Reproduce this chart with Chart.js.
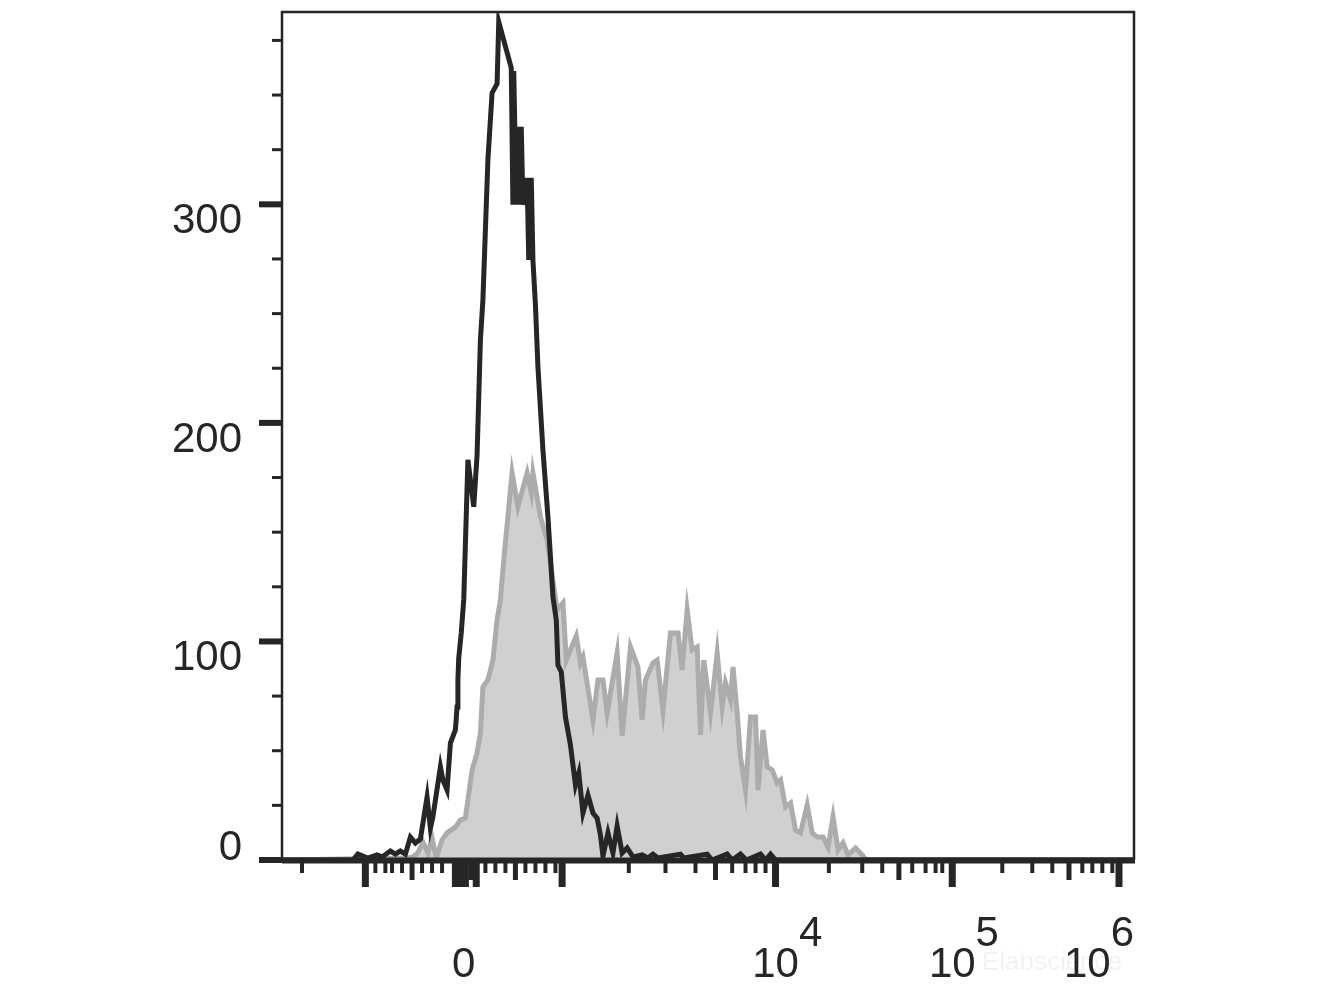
<!DOCTYPE html>
<html>
<head>
<meta charset="utf-8">
<script src="https://cdn.jsdelivr.net/npm/chart.js@4.4.1/dist/chart.umd.min.js"></script>
<style>
  html, body { margin: 0; padding: 0; background: #fff; }
  #wrap { width: 1323px; height: 992px; }
</style>
</head>
<body>
<div id="wrap"><canvas id="histChart" width="1323" height="992"></canvas></div>
<script>
// display channel (0-1022) and event count
const blackX = [0, 85, 91, 97, 103, 114, 120, 130, 136, 142, 148, 154, 160, 166, 174, 178, 181, 190, 193, 198,
  202, 208, 210, 211, 212, 215, 218, 223, 230, 234, 238, 241, 247, 252, 258, 260, 275, 277, 278, 281, 282, 284, 287, 289, 294,
  296, 299, 301, 304, 307, 313, 319, 325, 329, 331, 335, 340, 346, 352, 356, 361, 367, 373, 378, 382, 385, 391, 397, 402,
  408, 414, 421, 432, 439, 445, 451, 478, 482, 510, 516, 534, 540, 550, 557, 574, 580, 586, 592, 1022];
const blackY = [0, 0, 2.7, 1.8, 0.9, 2.3, 1.4, 4.1, 2.7, 4.1, 2.7, 10.5, 7.8, 9.6, 28.8, 14.6, 19.7, 42.6, 36.6, 32,
  53.5, 59.5, 70, 82.4, 92.4, 103.9, 119, 183.1, 161.6, 185.4, 238, 256.3, 320.4, 351, 355.1, 383.5, 362.5, 299.8, 361, 299.8, 335.5, 299.8, 335.5, 299.8, 312.1,
  274.6, 312.1, 274.6, 254, 225.6, 187.6, 157, 120.4, 109.8, 89.2, 86, 65.4, 52.6, 34.3, 39.8, 21.5, 29.7, 21.5, 19.2, 11.4, 1.8, 12.4, 3.2, 15.6,
  3.2, 5.5, 1.4, 2.3, 0.9, 2.7, 0.9, 2.7, 0.9, 2.7, 0, 2.7, 0, 2.7, 0, 2.7, 0, 2.7, 0, 0];

const grayX = [0, 151, 157, 163, 169, 175, 180, 185, 192, 198, 208, 214, 220, 223, 228, 234, 238, 241, 247, 253,
  258, 262, 266, 276, 283, 294, 299, 301, 310, 318, 324, 330, 337, 341, 353, 358, 361, 373, 379, 385,
  390, 402, 408, 418, 427, 432, 436, 445, 450, 457, 466, 475, 480, 486, 492, 498, 502, 506, 514, 522,
  528, 532, 538, 541, 546, 550, 556, 562, 568, 571, 577, 582, 588, 594, 598, 604, 610, 616, 622, 630,
  636, 642, 649, 655, 661, 667, 673, 679, 688, 696, 701, 1022];
const grayY = [0, 0.9, 1.4, 3.2, 8.2, 3.2, 10.1, 0.9, 9.2, 12.4, 15.1, 18.3, 19.2, 27.5, 41.2, 49, 58.1, 79.2, 82.4, 91.5,
  109.8, 119, 137.3, 177.1, 161.6, 177.1, 168, 177.1, 157, 146.5, 130.4, 114.4, 117.6, 91.5, 102.5, 90.2, 92.9, 64.1, 82.4, 82.4,
  67.3, 94.7, 56.8, 97.5, 88.3, 64.1, 82.4, 90.2, 91.5, 68.6, 103.9, 103.9, 87, 114.4, 96.1, 97.5, 57.2, 91.5, 67.3, 94.7,
  70, 81, 73.2, 88.3, 67.3, 47.1, 32, 65.4, 65.4, 32, 59.5, 42.6, 41.2, 35.2, 36.6, 24.3, 26.1, 13.7, 12.4, 25.2,
  12.4, 10.5, 10.5, 5.9, 19.7, 4.6, 7.8, 2.3, 5.5, 2.3, 0, 0];

// axis ticks
const yMajorTicks = [0, 100, 200, 300];
const yMinorTicks = [25, 50, 75, 125, 150, 175, 225, 250, 275, 325, 350, 375];
const xBigTicks = [100, 208, 214, 220, 233, 336, 592, 804, 1004];
const xMediumTicks = [156, 227, 280, 520, 740, 944];
const xSmallTicks = [24, 112, 124, 132, 144, 168, 180, 192, 244, 256, 268, 292, 304, 316, 328,
  416, 460, 496, 540, 556, 568, 580, 656, 696, 720, 756, 772, 784, 792, 864, 900, 924, 960, 972, 984, 996];
const xLabelPos = [218, 592, 804, 1004];
const xLabelBase = ["0", "10", "10", "10"];
const xLabelExp = ["", "4", "5", "6"];

const ink = "#262626";
const labelFont = "42px 'Liberation Sans', Arial, sans-serif";

const toPoints = (xs, ys) => xs.map((x, i) => ({ x: x, y: ys[i] }));

const flowAxes = {
  id: "flowAxes",
  afterDatasetsDraw(chart) {
    const { ctx, chartArea: a } = chart;
    const xs = chart.scales.x;
    const ys = chart.scales.y;
    ctx.save();
    ctx.strokeStyle = ink;
    ctx.fillStyle = ink;

    // frame
    ctx.lineWidth = 2.5;
    ctx.beginPath();
    ctx.moveTo(a.left, a.bottom);
    ctx.lineTo(a.left, a.top);
    ctx.lineTo(a.right, a.top);
    ctx.lineTo(a.right, a.bottom);
    ctx.stroke();
    // thick baseline
    ctx.fillRect(a.left, a.bottom - 2.5, a.right - a.left + 1, 6);

    // y ticks + labels
    yMajorTicks.forEach((v) => {
      const y = ys.getPixelForValue(v);
      ctx.fillRect(a.left - 23, y - 3, 23, 6);
    });
    yMinorTicks.forEach((v) => {
      const y = ys.getPixelForValue(v);
      ctx.fillRect(a.left - 10, y - 1.5, 10, 3);
    });
    ctx.font = labelFont;
    ctx.textAlign = "right";
    ctx.textBaseline = "alphabetic";
    yMajorTicks.forEach((v) => {
      const y = ys.getPixelForValue(v);
      ctx.fillText(String(v), a.left - 40, v === 0 ? y : y + 29);
    });

    // x ticks
    const top = a.bottom + 3;
    xSmallTicks.forEach((v) => ctx.fillRect(xs.getPixelForValue(v) - 2, top, 4, 10));
    xMediumTicks.forEach((v) => ctx.fillRect(xs.getPixelForValue(v) - 2.5, top, 5, 17));
    xBigTicks.forEach((v) => ctx.fillRect(xs.getPixelForValue(v) - 3.5, top, 7, 24));

    // x labels (10 with superscript exponent)
    ctx.textAlign = "left";
    xLabelPos.forEach((v, i) => {
      const x = xs.getPixelForValue(v);
      const wBase = ctx.measureText(xLabelBase[i]).width;
      const wExp = xLabelExp[i] ? ctx.measureText(xLabelExp[i]).width : 0;
      let start = x - wBase / 2;
      if (start + wBase + wExp > a.right) start = a.right - wBase - wExp;
      ctx.fillText(xLabelBase[i], start, a.bottom + 117);
      if (xLabelExp[i]) ctx.fillText(xLabelExp[i], start + wBase, a.bottom + 86);
    });

    // faint watermark
    ctx.font = "26px 'Liberation Sans', Arial, sans-serif";
    ctx.fillStyle = "rgba(0,0,0,0.05)";
    ctx.textAlign = "center";
    ctx.fillText("Elabscience", 1052, 970);
    ctx.restore();
  },
};

const ctx = document.getElementById("histChart").getContext("2d");
const histChart = new Chart(ctx, {
  type: "line",
  data: {
    datasets: [
      {
        label: "control",
        data: toPoints(blackX, blackY),
        borderColor: ink,
        borderWidth: 5,
        pointRadius: 0,
        tension: 0,
        fill: false,
        order: 0,
      },
      {
        label: "stained",
        data: toPoints(grayX, grayY),
        borderColor: "#acacac",
        backgroundColor: "#d0d0d0",
        borderWidth: 5,
        pointRadius: 0,
        tension: 0,
        fill: "origin",
        order: 1,
      },
    ],
  },
  options: {
    responsive: false,
    devicePixelRatio: 1,
    animation: false,
    layout: { padding: { left: 282, top: 12, right: 189, bottom: 132 } },
    plugins: { legend: { display: false }, tooltip: { enabled: false } },
    scales: {
      x: { type: "linear", min: 0, max: 1022, display: false },
      y: { type: "linear", min: 0, max: 388, display: false },
    },
  },
  plugins: [flowAxes],
});
</script>
</body>
</html>
